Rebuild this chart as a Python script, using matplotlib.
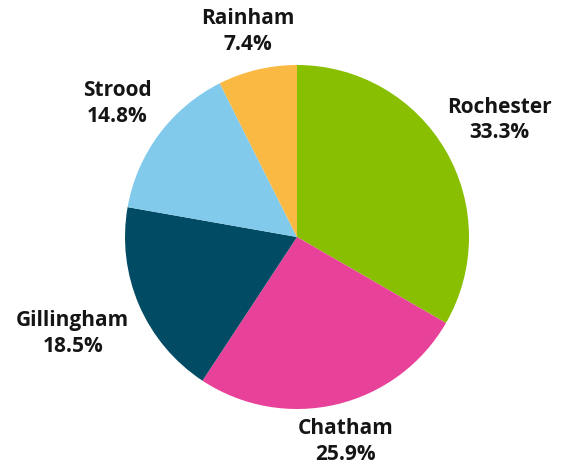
import matplotlib.pyplot as plt
import numpy as np

towns = ['Rochester', 'Chatham', 'Gillingham', 'Strood', 'Rainham']
shares = [33.3, 25.9, 18.5, 14.8, 7.4]
colors = ['#88bf00', '#e8419a', '#014b65', '#82caeb', '#f9b942']
label_dist = [1.36, 1.22, 1.42, 1.30, 1.23]

plt.rcParams['font.family'] = ['Open Sans', 'DejaVu Sans']

fig = plt.figure(figsize=(5.71, 4.68), dpi=100)
ax = fig.add_axes([0, 0, 1, 1])

r_px = 172
cx, cy = 297, 237
wedges, _ = ax.pie(shares, colors=colors, startangle=90, counterclock=False,
                   radius=1, wedgeprops=dict(linewidth=0))

# labels sit outside each wedge, along its middle angle
for w, town, val, d in zip(wedges, towns, shares, label_dist):
    ang = np.deg2rad((w.theta1 + w.theta2) / 2)
    ax.text(d * np.cos(ang), d * np.sin(ang), f'{town}\n{val:.1f}%',
            ha='center', va='center', fontsize=15, fontweight='bold',
            color='#151515', linespacing=1.3)

ax.set_xlim(-cx / r_px, (571 - cx) / r_px)
ax.set_ylim(-(468 - cy) / r_px, cy / r_px)
ax.set_aspect('auto')
ax.axis('off')

fig.savefig('out.png', dpi=100, facecolor='white')
